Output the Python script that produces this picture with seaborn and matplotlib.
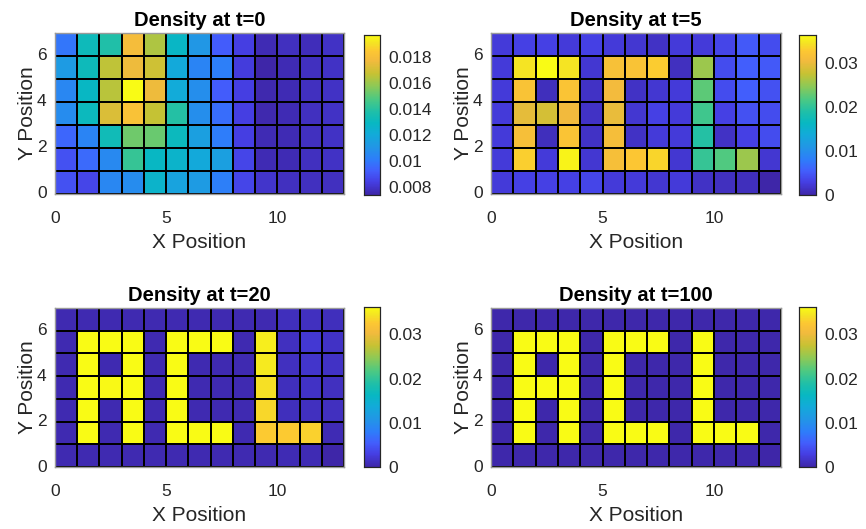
import numpy as np
import pandas as pd
import matplotlib
matplotlib.use("Agg")
import matplotlib.pyplot as plt
from matplotlib.colors import LinearSegmentedColormap
import seaborn as sns

# Density on a 13 x 7 grid; each list is one row, bottom row (y=0..1) first.
x_cells = list(range(13))
y_cells = list(range(7))

density_t0 = [
    [0.0089, 0.0086, 0.0105, 0.0107, 0.0126, 0.0117, 0.0113, 0.0102, 0.0086, 0.0080, 0.0078, 0.0078, 0.0078],
    [0.0089, 0.0096, 0.0106, 0.0143, 0.0129, 0.0126, 0.0120, 0.0115, 0.0086, 0.0076, 0.0076, 0.0078, 0.0079],
    [0.0095, 0.0104, 0.0133, 0.0153, 0.0152, 0.0131, 0.0115, 0.0101, 0.0084, 0.0076, 0.0076, 0.0078, 0.0079],
    [0.0107, 0.0131, 0.0172, 0.0182, 0.0167, 0.0139, 0.0108, 0.0097, 0.0084, 0.0075, 0.0076, 0.0078, 0.0079],
    [0.0105, 0.0129, 0.0165, 0.0197, 0.0176, 0.0121, 0.0108, 0.0092, 0.0084, 0.0075, 0.0076, 0.0078, 0.0079],
    [0.0113, 0.0132, 0.0166, 0.0176, 0.0169, 0.0120, 0.0104, 0.0102, 0.0083, 0.0074, 0.0076, 0.0078, 0.0079],
    [0.0099, 0.0132, 0.0138, 0.0179, 0.0163, 0.0128, 0.0111, 0.0092, 0.0084, 0.0076, 0.0078, 0.0077, 0.0079],
]

density_t5 = [
    [0.0025, 0.0030, 0.0030, 0.0030, 0.0035, 0.0025, 0.0025, 0.0020, 0.0025, 0.0015, 0.0012, 0.0010, 0.0000],
    [0.0025, 0.0332, 0.0025, 0.0358, 0.0020, 0.0314, 0.0326, 0.0336, 0.0020, 0.0204, 0.0220, 0.0255, 0.0020],
    [0.0025, 0.0314, 0.0010, 0.0322, 0.0015, 0.0312, 0.0015, 0.0025, 0.0025, 0.0193, 0.0015, 0.0030, 0.0040],
    [0.0025, 0.0296, 0.0285, 0.0305, 0.0015, 0.0300, 0.0020, 0.0030, 0.0025, 0.0210, 0.0030, 0.0045, 0.0040],
    [0.0025, 0.0320, 0.0010, 0.0322, 0.0015, 0.0306, 0.0015, 0.0020, 0.0025, 0.0226, 0.0040, 0.0055, 0.0045],
    [0.0025, 0.0346, 0.0364, 0.0346, 0.0020, 0.0316, 0.0320, 0.0330, 0.0012, 0.0255, 0.0040, 0.0055, 0.0050],
    [0.0025, 0.0030, 0.0030, 0.0025, 0.0030, 0.0025, 0.0020, 0.0015, 0.0025, 0.0025, 0.0035, 0.0050, 0.0040],
]

density_t20 = [
    [0.0005, 0.0005, 0.0005, 0.0005, 0.0005, 0.0005, 0.0005, 0.0005, 0.0005, 0.0005, 0.0007, 0.0007, 0.0000],
    [0.0005, 0.0362, 0.0005, 0.0362, 0.0005, 0.0362, 0.0362, 0.0362, 0.0005, 0.0328, 0.0328, 0.0332, 0.0007],
    [0.0005, 0.0362, 0.0005, 0.0362, 0.0005, 0.0362, 0.0005, 0.0005, 0.0005, 0.0336, 0.0010, 0.0012, 0.0012],
    [0.0005, 0.0362, 0.0360, 0.0362, 0.0005, 0.0362, 0.0005, 0.0005, 0.0005, 0.0342, 0.0010, 0.0015, 0.0012],
    [0.0005, 0.0362, 0.0005, 0.0362, 0.0005, 0.0362, 0.0005, 0.0005, 0.0005, 0.0348, 0.0012, 0.0018, 0.0015],
    [0.0005, 0.0362, 0.0362, 0.0362, 0.0005, 0.0362, 0.0362, 0.0362, 0.0005, 0.0352, 0.0012, 0.0022, 0.0015],
    [0.0005, 0.0005, 0.0005, 0.0005, 0.0005, 0.0005, 0.0005, 0.0005, 0.0005, 0.0005, 0.0010, 0.0012, 0.0010],
]

density_t100 = [
    [0.0002, 0.0002, 0.0002, 0.0002, 0.0002, 0.0002, 0.0002, 0.0002, 0.0002, 0.0002, 0.0002, 0.0002, 0.0000],
    [0.0002, 0.0362, 0.0002, 0.0362, 0.0002, 0.0362, 0.0362, 0.0362, 0.0002, 0.0362, 0.0362, 0.0362, 0.0002],
    [0.0002, 0.0362, 0.0002, 0.0362, 0.0002, 0.0362, 0.0002, 0.0002, 0.0002, 0.0362, 0.0002, 0.0002, 0.0002],
    [0.0002, 0.0362, 0.0362, 0.0362, 0.0002, 0.0362, 0.0002, 0.0002, 0.0002, 0.0362, 0.0002, 0.0002, 0.0002],
    [0.0002, 0.0362, 0.0002, 0.0362, 0.0002, 0.0362, 0.0002, 0.0002, 0.0002, 0.0362, 0.0002, 0.0002, 0.0002],
    [0.0002, 0.0362, 0.0362, 0.0362, 0.0002, 0.0362, 0.0362, 0.0362, 0.0002, 0.0362, 0.0002, 0.0002, 0.0002],
    [0.0002, 0.0002, 0.0002, 0.0002, 0.0002, 0.0002, 0.0002, 0.0002, 0.0002, 0.0002, 0.0002, 0.0002, 0.0002],
]

titles = ["Density at t=0", "Density at t=5", "Density at t=20", "Density at t=100"]
x_ticks = [0, 5, 10]
y_ticks = [0, 2, 4, 6]

# Parula-style colour ramp: (position, rgb)
parula_anchors = [
    (0.00, (0.2422, 0.1504, 0.6603)),
    (0.08, (0.2720, 0.2450, 0.8900)),
    (0.15, (0.2600, 0.3700, 0.9900)),
    (0.22, (0.1800, 0.4900, 0.9800)),
    (0.30, (0.1300, 0.5900, 0.9000)),
    (0.38, (0.0700, 0.6700, 0.8500)),
    (0.45, (0.0300, 0.7200, 0.7600)),
    (0.52, (0.1200, 0.7500, 0.6600)),
    (0.60, (0.3000, 0.7900, 0.5100)),
    (0.68, (0.5500, 0.7900, 0.3400)),
    (0.76, (0.7800, 0.7600, 0.2000)),
    (0.84, (0.9500, 0.7300, 0.2400)),
    (0.90, (0.9900, 0.7800, 0.2000)),
    (0.95, (0.9600, 0.8900, 0.1400)),
    (1.00, (0.9769, 0.9839, 0.0805)),
]
parula = LinearSegmentedColormap.from_list("parula", parula_anchors, N=256)

sns.set_theme(style="white")
plt.rcParams["font.family"] = ["Liberation Sans", "DejaVu Sans"]

W, H = 866, 529
fig = plt.figure(figsize=(W / 100, H / 100), dpi=100)

# pixel boxes: (left, top, width, height)
ax_boxes = [(55, 33, 289, 161), (491, 33, 290, 161), (55, 308, 289, 159), (491, 308, 290, 159)]
cb_boxes = [(364, 35, 16, 160), (799, 35, 17, 160), (364, 307, 16, 160), (799, 307, 17, 160)]

def fig_rect(box):
    l, t, w, h = box
    return [l / W, 1 - (t + h) / H, w / W, h / H]

tick_color = "#262626"
frames = [density_t0, density_t5, density_t20, density_t100]

for data, title, abox, cbox in zip(frames, titles, ax_boxes, cb_boxes):
    ax = fig.add_axes(fig_rect(abox))
    cax = fig.add_axes(fig_rect(cbox))
    df = pd.DataFrame(data, index=y_cells, columns=x_cells)
    sns.heatmap(df, ax=ax, cbar_ax=cax, cmap=parula, linewidths=1.2,
                linecolor="black", square=False)
    ax.set_xlim(0, len(x_cells))
    ax.set_ylim(0, len(y_cells))
    ax.set_xticks(x_ticks)
    ax.set_xticklabels([str(v) for v in x_ticks], rotation=0)
    ax.set_yticks(y_ticks)
    ax.set_yticklabels([str(v) for v in y_ticks], rotation=0)
    ax.tick_params(axis="x", labelsize=12.5, colors=tick_color, length=0, pad=12)
    ax.tick_params(axis="y", labelsize=12.5, colors=tick_color, length=0, pad=6)
    ax.set_xlabel("X Position", fontsize=15, color=tick_color, labelpad=5)
    ax.set_ylabel("Y Position", fontsize=15, color=tick_color, labelpad=0)
    ax.set_title(title, fontsize=14.5, fontweight="bold", color="black", pad=5)
    for sp in ax.spines.values():
        sp.set_visible(True)
        sp.set_color("#9a9a9a")
        sp.set_linewidth(1.0)

    vmin, vmax = float(np.min(data)), float(np.max(data))
    step = 0.002 if vmax < 0.025 else 0.01
    ticks = [t for t in np.arange(0, vmax + 1e-9, step) if t >= vmin - 1e-9]
    cax.set_yticks(ticks)
    cax.set_yticklabels([f"{t:g}" for t in ticks])
    cax.tick_params(axis="y", labelsize=12.5, colors=tick_color, direction="in",
                    length=3, width=0.6, pad=6)
    for sp in cax.spines.values():
        sp.set_visible(True)
        sp.set_color("#262626")
        sp.set_linewidth(0.8)

fig.savefig("out.png", dpi=100, facecolor="white")
